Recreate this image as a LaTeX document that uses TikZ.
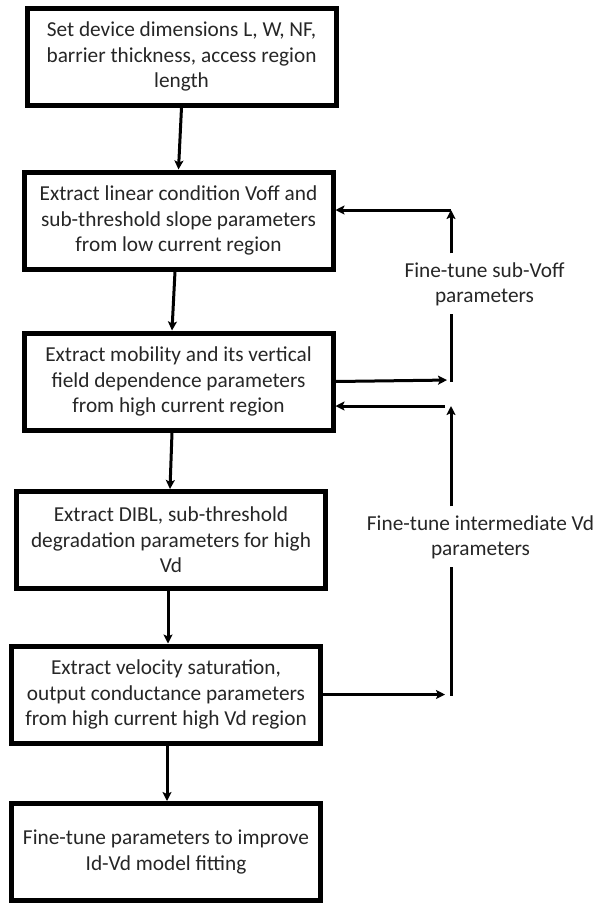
\documentclass[tikz,border=0pt]{standalone}
\usepackage{fontspec}
\setmainfont{Carlito}
\usetikzlibrary{arrows.meta,positioning}

\begin{document}
\begin{tikzpicture}
	[x=1pt, y=-1pt, font=\fontsize{21.3}{25.5}\selectfont,
	stepbox/.style	= {rectangle, draw, line width=5pt, inner sep=0pt, minimum width=309pt, minimum height=97pt, align=center, text=black!85},
	note/.style	= {inner sep=9pt, align=center, text=black!85},
	paths/.style	= {-{Stealth[length=9pt, width=9pt, inset=2pt]}, line width=3pt},
	wire/.style	= {line width=3pt, line cap=rect}]

	\useasboundingbox (0,0) rectangle (598,903);

	\node at (181.5, 56.5)	[stepbox]	(b1)	{Set device dimensions L, W, NF,\\barrier thickness, access region\\length};
	\node at (178.5, 220.5)	[stepbox]	(b2)	{Extract linear condition Voff and\\sub-threshold slope parameters\\from low current region};
	\node at (178.5, 381.5)	[stepbox]	(b3)	{Extract mobility and its vertical\\field dependence parameters\\from high current region};
	\node at (171, 540)	[stepbox]	(b4)	{Extract DIBL, sub-threshold\\degradation parameters for high\\Vd};
	\node at (166, 694.5)	[stepbox]	(b5)	{Extract velocity saturation,\\output conductance parameters\\from high current high Vd region};
	\node at (166, 852)	[stepbox]	(b6)	{Fine-tune parameters to improve\\Id-Vd model fitting};

	\node at (484.5, 284.5)	[note]	(tuneoff)	{Fine-tune sub-Voff\\parameters};
	\node at (480.5, 537.5)	[note]	(tunevd)	{Fine-tune intermediate Vd\\parameters};

	\coordinate (offtop)	at (451, 210);
	\coordinate (offbot)	at (451, 380);
	\coordinate (vdtop)	at (451, 406);
	\coordinate (vdbot)	at (451, 694.5);

	% main flow
	\draw [paths] (b1.south) -- (b2.north);
	\draw [paths] ([xshift=-3.5pt]b2.south) -- ([xshift=-6.5pt]b3.north);
	\draw [paths] ([xshift=-6.5pt]b3.south) -- ([xshift=-1pt]b4.north);
	\draw [paths] ([xshift=-3pt]b4.south) -- ([xshift=2pt]b5.north);
	\draw [paths] ([xshift=1pt]b5.south) -- ([xshift=1pt]b6.north);

	% sub-Voff loop
	\draw [paths, shorten >=4pt] (b3.east) -- (offbot);
	\draw [wire] (offbot) -- (tuneoff.south -| offbot);
	\draw [paths] (tuneoff.north -| offtop) -- (offtop);
	\draw [paths] (offtop) -- (b2.east |- offtop);

	% intermediate Vd loop
	\draw [paths, shorten >=6pt] (b5.east) -- (vdbot);
	\draw [wire] (vdbot) -- (tunevd.south -| vdbot);
	\draw [paths] (tunevd.north -| vdtop) -- (vdtop);
	\draw [paths] ([xshift=-6pt]vdtop) -- (b3.east |- vdtop);
\end{tikzpicture}
\end{document}
